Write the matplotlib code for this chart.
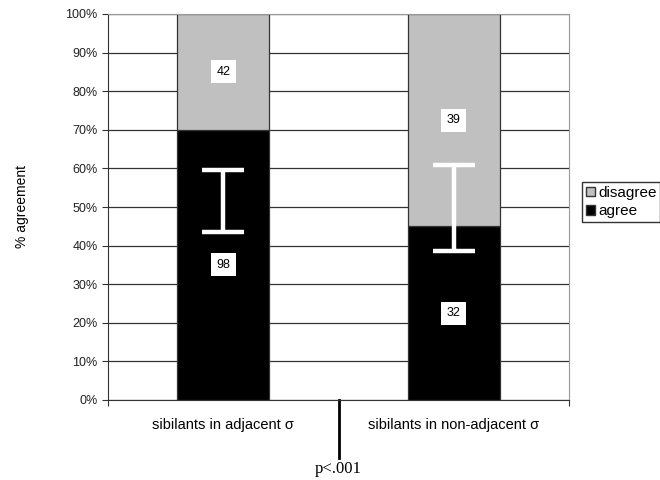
import matplotlib.pyplot as plt
import numpy as np
from matplotlib.patches import Patch

# ============ data ============
categories = ['sibilants in adjacent \u03c3', 'sibilants in non-adjacent \u03c3']
agree = np.array([98, 32])
disagree = np.array([42, 39])
# white interval bars (percent)
ci_low = np.array([43.5, 38.5])
ci_high = np.array([59.5, 61.0])
y_ticks = np.arange(0, 101, 10)
p_text = 'p<.001'

total = agree + disagree
agree_pct = agree / total * 100
disagree_pct = disagree / total * 100

plt.rcParams['font.family'] = ['Liberation Sans', 'DejaVu Sans']

fig = plt.figure(figsize=(6.6, 4.8), dpi=100)
ax = fig.add_axes([108 / 660, 80 / 480, 461 / 660, 386 / 480])

x = np.arange(len(categories))
width = 0.4

# gridlines behind bars
ax.set_axisbelow(True)
ax.yaxis.grid(True, color='#333333', linewidth=0.9)

ax.bar(x, agree_pct, width, color='black', edgecolor='#333333', linewidth=0.9)
ax.bar(x, disagree_pct, width, bottom=agree_pct, color='#c0c0c0',
       edgecolor='#333333', linewidth=0.9)

# white error bars
ci_mid = (ci_low + ci_high) / 2
ci_half = (ci_high - ci_low) / 2
ax.errorbar(x, ci_mid, yerr=ci_half, fmt='none', ecolor='white',
            elinewidth=3.2, capsize=15, capthick=3.2, zorder=5)

# count labels in white boxes
for i in range(len(x)):
    ax.text(x[i], agree_pct[i] / 2, str(agree[i]), ha='center', va='center',
            fontsize=9, zorder=6,
            bbox=dict(facecolor='white', edgecolor='none', pad=4))
    ax.text(x[i], agree_pct[i] + disagree_pct[i] / 2, str(disagree[i]),
            ha='center', va='center', fontsize=9, zorder=6,
            bbox=dict(facecolor='white', edgecolor='none', pad=4))

ax.set_xlim(-0.5, 1.5)
ax.set_ylim(0, 100)
ax.set_yticks(y_ticks)
ax.set_yticklabels([f'{t}%' for t in y_ticks], fontsize=9, color='#222222')
ax.set_ylabel('% agreement', fontsize=10, labelpad=26)

# x ticks: boundary marks, labels centred under bars
ax.set_xticks([-0.5, 0.5, 1.5])
ax.set_xticklabels([])
ax.set_xticks(x, minor=True)
ax.set_xticklabels(categories, minor=True, fontsize=10.5)
ax.tick_params(axis='x', which='minor', length=0, pad=13)
ax.tick_params(axis='x', which='major', length=4, color='#333333')
ax.tick_params(axis='y', length=4, color='#333333')

for side in ['top', 'right']:
    ax.spines[side].set_color('#999999')
ax.spines['left'].set_color('#333333')
ax.spines['bottom'].set_color('#333333')

# significance line and text below the axis
ax.plot([0.5, 0.5], [0, -0.15], transform=ax.get_xaxis_transform(),
        color='black', linewidth=2, clip_on=False)
ax.text(0.5, -0.18, p_text, transform=ax.get_xaxis_transform(),
        ha='center', va='center', fontsize=12, family='Liberation Serif')

# legend at the right edge
handles = [Patch(facecolor='#c0c0c0', edgecolor='#333333', label='disagree'),
           Patch(facecolor='black', edgecolor='#333333', label='agree')]
fig.legend(handles=handles, loc='upper left', bbox_to_anchor=(582 / 660, 1 - 182 / 480),
           fontsize=11, frameon=True, fancybox=False, edgecolor='black',
           handlelength=0.6, handleheight=0.6, handletextpad=0.2,
           borderpad=0.25, labelspacing=0.3, borderaxespad=0)

fig.savefig('out.png', dpi=100)
